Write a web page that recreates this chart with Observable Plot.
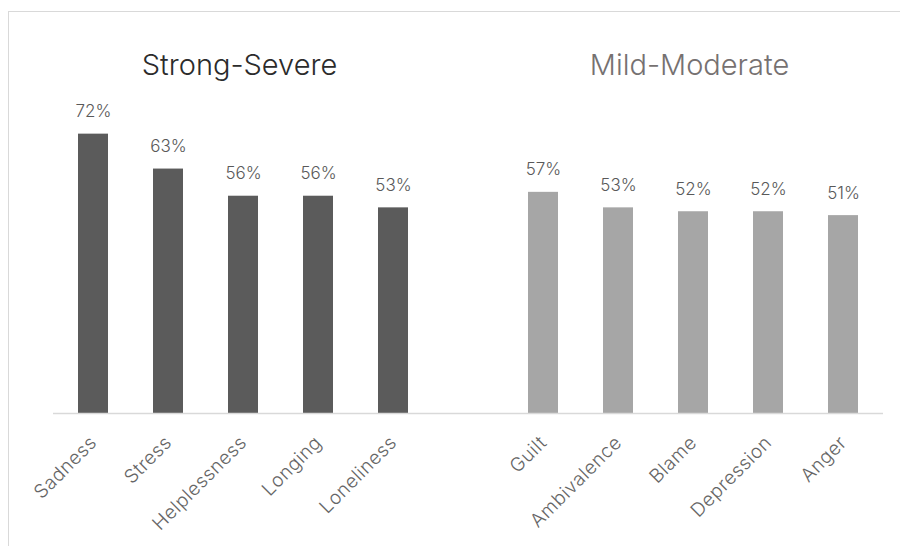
<!DOCTYPE html>
<html>
<head>
<meta charset="utf-8">
<script src="https://cdn.jsdelivr.net/npm/d3@7"></script>
<script src="https://cdn.jsdelivr.net/npm/@observablehq/plot@0.6"></script>
<style>
  html, body { margin: 0; padding: 0; background: #fff; }
  #wrap { position: relative; width: 900px; height: 546px; overflow: hidden; }
  #border { position: absolute; left: 8px; top: 11px; width: 1000px; height: 1000px;
            border-top: 1px solid #d9d9d9; border-left: 1px solid #d9d9d9; }
  #wrap svg { position: absolute; left: 0; top: 0; }
  #wrap g[aria-label="x-axis tick label"] text { letter-spacing: 0.5px; }
</style>
</head>
<body>
<div id="wrap"><div id="border"></div></div>
<script>
// Share of respondents per emotion, by intensity group
const strongCats = ["Sadness", "Stress", "Helplessness", "Longing", "Loneliness"];
const strongVals = [72, 63, 56, 56, 53];
const mildCats = ["Guilt", "Ambivalence", "Blame", "Depression", "Anger"];
const mildVals = [57, 53, 52, 52, 51];
const groupTitles = ["Strong-Severe", "Mild-Moderate"];
const gap = "gap"; // empty slot separating the two groups

const rows = [
  ...strongCats.map((c, i) => ({cat: c, value: strongVals[i], group: groupTitles[0]})),
  ...mildCats.map((c, i) => ({cat: c, value: mildVals[i], group: groupTitles[1]}))
];
const domain = [...strongCats, gap, ...mildCats];
const titles = [
  {cat: strongCats[2], text: groupTitles[0]},
  {cat: mildCats[2], text: groupTitles[1]}
];
const barColor = {[groupTitles[0]]: "#5b5b5b", [groupTitles[1]]: "#a6a6a6"};
const titleColor = {[groupTitles[0]]: "#2b2b2b", [groupTitles[1]]: "#767171"};
const font = "Inter, Lato, sans-serif";

const chart = Plot.plot({
  width: 900,
  height: 546,
  marginLeft: 53,
  marginRight: 17,
  marginTop: 25,
  marginBottom: 133,
  style: {fontFamily: font, background: "transparent"},
  x: {domain, paddingInner: 0.6, paddingOuter: 0.3, label: null},
  y: {domain: [0, 100], axis: null},
  marks: [
    Plot.barY(rows, {x: "cat", y: "value", fill: d => barColor[d.group]}),
    Plot.ruleY([0], {stroke: "#d9d9d9", strokeWidth: 1.5}),
    Plot.text(rows, {
      x: "cat", y: "value", text: d => `${d.value}%`,
      lineAnchor: "bottom", dy: -17, fontSize: 17, fontWeight: 300, fill: "#595959"
    }),
    Plot.text(titles, {
      x: "cat", text: "text", frameAnchor: "top", lineAnchor: "bottom", dy: 49, dx: -4,
      fontSize: 29, fontWeight: 300, fill: d => titleColor[d.text]
    }),
    Plot.axisX({
      tickSize: 0, tickRotate: -45, tickPadding: 26, fontSize: 19, fontWeight: 300,
      fill: "#666666", label: null,
      tickFormat: d => (d === gap ? "" : d)
    })
  ]
});
document.getElementById("wrap").appendChild(chart);
</script>
</body>
</html>
